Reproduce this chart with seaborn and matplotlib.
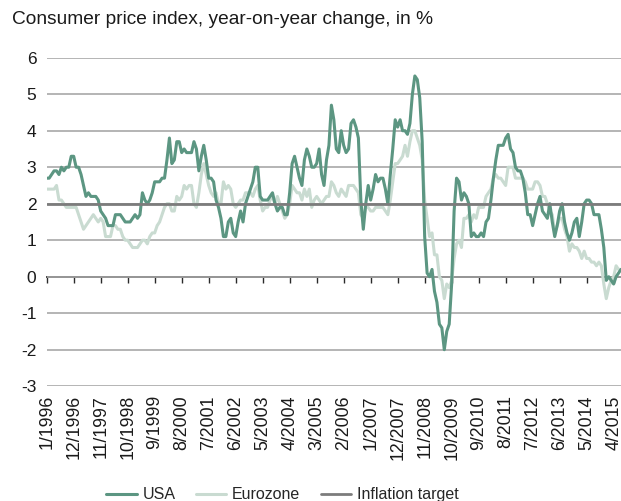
import numpy as np
import pandas as pd
import matplotlib
matplotlib.use("Agg")
import matplotlib.pyplot as plt
import seaborn as sns

# Monthly year-on-year CPI change in %, January 1996 to July 2015
usa = [
    2.7, 2.7, 2.8, 2.9, 2.9, 2.8, 3.0, 2.9, 3.0, 3.0, 3.3, 3.3,   # 1996
    3.0, 3.0, 2.8, 2.5, 2.2, 2.3, 2.2, 2.2, 2.2, 2.1, 1.8, 1.7,   # 1997
    1.6, 1.4, 1.4, 1.4, 1.7, 1.7, 1.7, 1.6, 1.5, 1.5, 1.5, 1.6,   # 1998
    1.7, 1.6, 1.7, 2.3, 2.1, 2.0, 2.1, 2.3, 2.6, 2.6, 2.6, 2.7,   # 1999
    2.7, 3.2, 3.8, 3.1, 3.2, 3.7, 3.7, 3.4, 3.5, 3.4, 3.4, 3.4,   # 2000
    3.7, 3.5, 2.9, 3.3, 3.6, 3.2, 2.7, 2.7, 2.6, 2.1, 1.9, 1.6,   # 2001
    1.1, 1.1, 1.5, 1.6, 1.2, 1.1, 1.5, 1.8, 1.5, 2.0, 2.2, 2.4,   # 2002
    2.6, 3.0, 3.0, 2.2, 2.1, 2.1, 2.1, 2.2, 2.3, 2.0, 1.8, 1.9,   # 2003
    1.9, 1.7, 1.7, 2.3, 3.1, 3.3, 3.0, 2.7, 2.5, 3.2, 3.5, 3.3,   # 2004
    3.0, 3.0, 3.1, 3.5, 2.8, 2.5, 3.2, 3.6, 4.7, 4.3, 3.5, 3.4,   # 2005
    4.0, 3.6, 3.4, 3.5, 4.2, 4.3, 4.1, 3.8, 2.1, 1.3, 2.0, 2.5,   # 2006
    2.1, 2.4, 2.8, 2.6, 2.7, 2.7, 2.4, 2.0, 2.8, 3.5, 4.3, 4.1,   # 2007
    4.3, 4.0, 4.0, 3.9, 4.2, 5.0, 5.5, 5.4, 4.9, 3.7, 1.1, 0.1,   # 2008
    0.0, 0.2, -0.4, -0.7, -1.3, -1.4, -2.0, -1.5, -1.3, -0.2, 1.8, 2.7,  # 2009
    2.6, 2.1, 2.3, 2.2, 2.0, 1.1, 1.2, 1.1, 1.1, 1.2, 1.1, 1.5,   # 2010
    1.6, 2.1, 2.7, 3.2, 3.6, 3.6, 3.6, 3.8, 3.9, 3.5, 3.4, 3.0,   # 2011
    2.9, 2.9, 2.7, 2.3, 1.7, 1.7, 1.4, 1.7, 2.0, 2.2, 1.8, 1.7,   # 2012
    1.6, 2.0, 1.5, 1.1, 1.4, 1.8, 2.0, 1.5, 1.2, 1.0, 1.2, 1.5,   # 2013
    1.6, 1.1, 1.5, 2.0, 2.1, 2.1, 2.0, 1.7, 1.7, 1.7, 1.3, 0.8,   # 2014
    -0.1, 0.0, -0.1, -0.2, 0.0, 0.1, 0.2,                          # 2015
]

eurozone = [
    2.4, 2.4, 2.4, 2.4, 2.5, 2.1, 2.1, 2.0, 1.9, 1.9, 1.9, 1.9,   # 1996
    1.9, 1.7, 1.5, 1.3, 1.4, 1.5, 1.6, 1.7, 1.6, 1.5, 1.6, 1.5,   # 1997
    1.1, 1.1, 1.1, 1.4, 1.4, 1.3, 1.3, 1.1, 1.0, 1.0, 0.9, 0.8,   # 1998
    0.8, 0.8, 0.9, 1.0, 1.0, 0.9, 1.1, 1.2, 1.2, 1.4, 1.5, 1.7,   # 1999
    1.9, 2.0, 2.0, 1.8, 1.8, 2.2, 2.1, 2.2, 2.5, 2.4, 2.5, 2.5,   # 2000
    2.0, 1.9, 2.3, 2.8, 3.1, 2.8, 2.5, 2.3, 2.2, 2.3, 2.0, 2.0,   # 2001
    2.6, 2.4, 2.5, 2.4, 2.0, 1.9, 2.0, 2.1, 2.1, 2.3, 2.3, 2.3,   # 2002
    2.2, 2.4, 2.5, 2.1, 1.8, 1.9, 1.9, 2.1, 2.2, 2.0, 2.2, 2.0,   # 2003
    1.8, 1.6, 1.7, 2.0, 2.5, 2.4, 2.3, 2.3, 2.1, 2.4, 2.2, 2.4,   # 2004
    1.9, 2.1, 2.2, 2.1, 2.0, 2.1, 2.2, 2.2, 2.6, 2.5, 2.3, 2.2,   # 2005
    2.4, 2.3, 2.2, 2.5, 2.5, 2.5, 2.4, 2.3, 1.7, 1.6, 1.9, 1.9,   # 2006
    1.8, 1.8, 1.9, 1.9, 1.9, 1.9, 1.8, 1.7, 2.1, 2.6, 3.1, 3.1,   # 2007
    3.2, 3.3, 3.6, 3.3, 3.7, 4.0, 4.0, 3.8, 3.6, 3.2, 2.1, 1.6,   # 2008
    1.1, 1.2, 0.6, 0.6, 0.0, -0.1, -0.6, -0.2, -0.3, -0.1, 0.5, 0.9,  # 2009
    1.0, 0.8, 1.6, 1.6, 1.7, 1.5, 1.7, 1.6, 1.9, 1.9, 1.9, 2.2,   # 2010
    2.3, 2.4, 2.7, 2.8, 2.7, 2.7, 2.6, 2.5, 3.0, 3.0, 3.0, 2.7,   # 2011
    2.7, 2.7, 2.7, 2.6, 2.4, 2.4, 2.4, 2.6, 2.6, 2.5, 2.2, 2.2,   # 2012
    2.0, 1.8, 1.7, 1.2, 1.4, 1.6, 1.6, 1.3, 1.1, 0.7, 0.9, 0.8,   # 2013
    0.8, 0.7, 0.5, 0.7, 0.5, 0.5, 0.4, 0.4, 0.3, 0.4, 0.3, -0.2,  # 2014
    -0.6, -0.3, -0.1, 0.0, 0.3, 0.2, 0.2,                          # 2015
]

inflation_target = [2.0] * len(usa)

tick_labels = [
    "1/1996", "12/1996", "11/1997", "10/1998", "9/1999", "8/2000",
    "7/2001", "6/2002", "5/2003", "4/2004", "3/2005", "2/2006",
    "1/2007", "12/2007", "11/2008", "10/2009", "9/2010", "8/2011",
    "7/2012", "6/2013", "5/2014", "4/2015",
]
tick_step = 11  # months between labelled ticks

y_ticks = [-3, -2, -1, 0, 1, 2, 3, 4, 5, 6]

months = np.arange(len(usa))
df = pd.DataFrame({
    "month": months,
    "USA": usa,
    "Eurozone": eurozone,
    "Inflation target": inflation_target,
})

sns.set_theme(style="white")
plt.rcParams["font.family"] = ["Liberation Sans", "DejaVu Sans"]
plt.rcParams["axes.unicode_minus"] = False

c_usa = "#5c9682"
c_euro = "#c9dbd1"
c_target = "#7c7c7c"
c_grid = "#a8a8a8"

fig = plt.figure(figsize=(6.21, 5.01), dpi=100)
ax = fig.add_axes([0.0752, 0.2291, 0.9248, 0.6557])

sns.lineplot(data=df, x="month", y="USA", ax=ax, color=c_usa, lw=2.2,
             label="USA", zorder=3)
sns.lineplot(data=df, x="month", y="Eurozone", ax=ax, color=c_euro, lw=2.2,
             label="Eurozone", zorder=2)
sns.lineplot(data=df, x="month", y="Inflation target", ax=ax, color=c_target,
             lw=2.0, label="Inflation target", zorder=4)

ax.set_xlim(0, len(usa) - 1)
ax.set_ylim(-3, 6)
ax.set_xlabel("")
ax.set_ylabel("")

ax.set_yticks(y_ticks)
ax.set_yticklabels([str(v) for v in y_ticks])
ax.yaxis.grid(True, color=c_grid, lw=1.2)
ax.xaxis.grid(False)
ax.set_axisbelow(True)
for s in ax.spines.values():
    s.set_visible(False)

xt = [i * tick_step for i in range(len(tick_labels))]
ax.set_xticks(xt)
ax.set_xticklabels(tick_labels, rotation=90)
ax.tick_params(axis="x", length=0, pad=6.5, labelsize=12.8, colors="#1a1a1a")
ax.tick_params(axis="y", length=0, pad=7.5, labelsize=12.5, colors="#1a1a1a")

# Zero line carrying the tick marks
zero_frac = (0 - (-3)) / (6 - (-3))
sec = ax.secondary_xaxis(zero_frac)
sec.set_alignment("bottom")
sec.set_xticks(xt)
sec.set_xticklabels([""] * len(xt))
sec.tick_params(axis="x", direction="out", length=4, width=1.0, color="#2a2a2a")
for name, s in sec.spines.items():
    s.set_visible(name == "bottom")
sec.spines["bottom"].set_color("#2a2a2a")
sec.spines["bottom"].set_linewidth(1.3)

ax.get_legend().remove()
handles, labels = ax.get_legend_handles_labels()
fig.legend(handles, labels, loc="center", bbox_to_anchor=(0.455, 0.012),
           ncol=3, frameon=False, fontsize=11.5, handlelength=1.9,
           handletextpad=0.35, columnspacing=1.3)

fig.text(0.019, 1 - 20 / 501, "Consumer price index, year-on-year change, in %",
         ha="left", va="center", fontsize=13.8, color="#1a1a1a")

fig.savefig("out.png", dpi=100)
